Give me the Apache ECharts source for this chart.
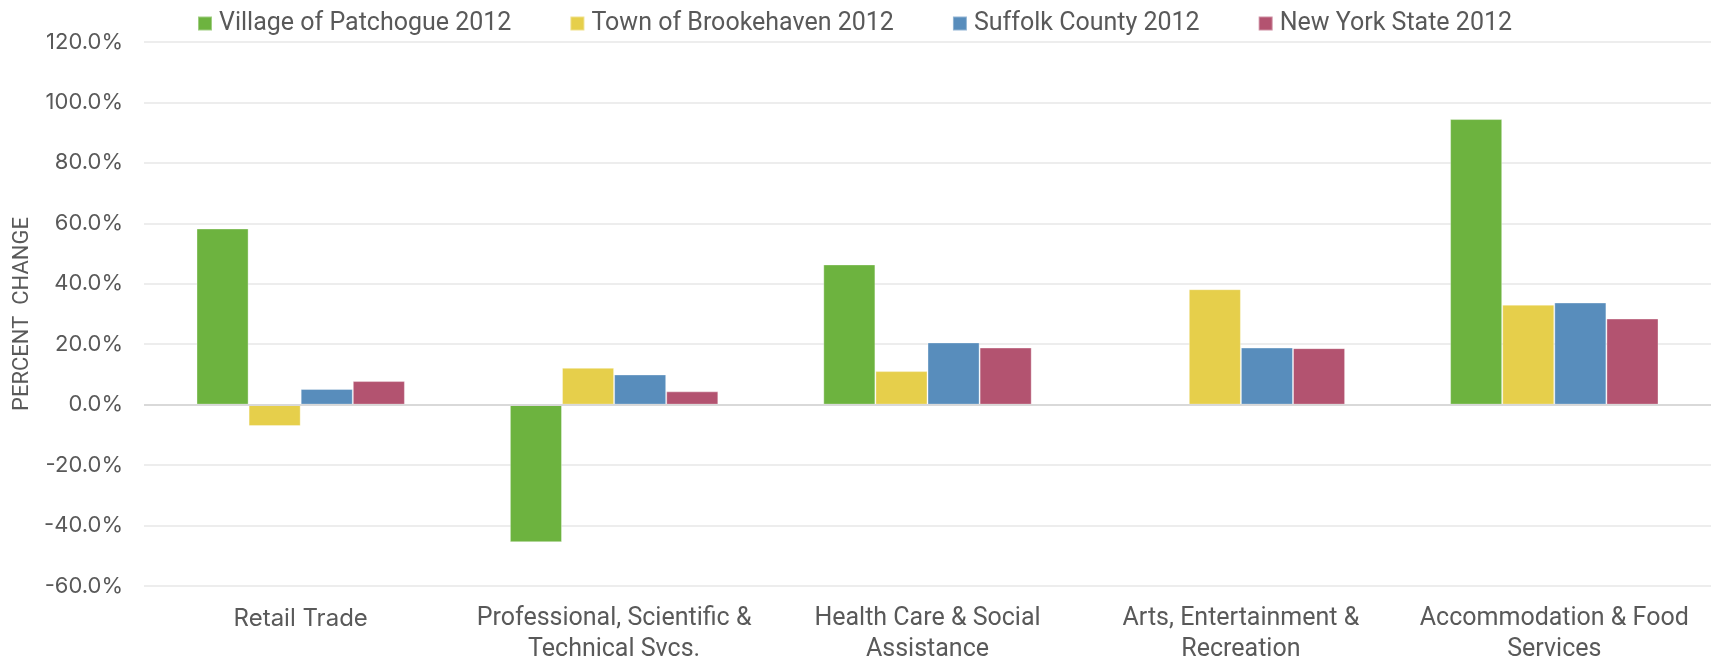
<!DOCTYPE html>
<html>
<head>
<meta charset="utf-8">
<script src="https://cdn.jsdelivr.net/npm/echarts@6/dist/echarts.min.js"></script>
<style>
  html, body { margin: 0; padding: 0; background: #fff; }
  #main { width: 1711px; height: 662px; }
</style>
</head>
<body>
<div id="main"></div>
<script>
// categories on the x axis
var categories = [
  'Retail Trade',
  'Professional, Scientific &\nTechnical Svcs.',
  'Health Care & Social\nAssistance',
  'Arts, Entertainment &\nRecreation',
  'Accommodation & Food\nServices'
];
var seriesNames = ['Village of Patchogue 2012', 'Town of Brookehaven 2012', 'Suffolk County 2012', 'New York State 2012'];
// percent change values
var patchogue = [58.3, -45.5, 46.4, null, 94.5];
var brookhaven = [-7.1, 12.2, 11.1, 38.2, 33.1];
var suffolk = [5.2, 10.0, 20.6, 18.9, 33.8];
var nyState = [7.8, 4.4, 18.9, 18.7, 28.5];
var yTicks = { min: -60, max: 120, step: 20 };

var colors = ['#6db33f', '#e6cf4b', '#588dbc', '#b35370'];
var textGray = '#595959';

var myChart = echarts.init(document.getElementById('main'));

// 把每组数据变成柱状系列
var makeBar = function (name, data, i) {
  var s = {
    name: name,
    type: 'bar',
    data: data,
    barGap: '0%',
    barCategoryGap: '33.5%',
    itemStyle: {
      color: colors[i],
      borderColor: 'rgba(255,255,255,0.35)',
      borderWidth: 1
    }
  };
  if (i === 0) {
    // zero line across the plot
    s.markLine = {
      silent: true,
      symbol: ['none', 'none'],
      label: { show: false },
      lineStyle: { color: '#d9d9d9', width: 2, type: 'solid' },
      data: [{ yAxis: 0 }]
    };
  }
  return s;
};

myChart.setOption({
  animation: false,
  color: colors,
  legend: {
    left: 192,
    top: 6,
    itemWidth: 14,
    itemHeight: 14,
    itemGap: 58,
    icon: 'rect',
    textStyle: { color: textGray, fontSize: 25, fontFamily: 'Roboto', padding: [0, 0, 0, 2] },
    data: seriesNames
  },
  grid: { left: 144, right: 0, top: 42, bottom: 74 },
  xAxis: {
    type: 'category',
    data: categories,
    axisLine: { show: false, onZero: false },
    axisTick: { show: false },
    axisLabel: {
      margin: 17,
      interval: 0,
      formatter: function (v) {
        if (v === 'Retail Trade') return '{wide|' + v + '}';
        return '{narrow|' + v.split('\n').join('}\n{narrow|') + '}';
      },
      rich: {
        wide: { fontFamily: 'Inter', fontSize: 24, color: textGray, lineHeight: 31 },
        narrow: { fontFamily: 'Roboto', fontSize: 25, color: textGray, lineHeight: 31 }
      }
    }
  },
  yAxis: {
    type: 'value',
    min: yTicks.min,
    max: yTicks.max,
    interval: yTicks.step,
    name: 'PERCENT  CHANGE',
    nameLocation: 'middle',
    nameGap: 110,
    nameTextStyle: { color: textGray, fontSize: 22, fontFamily: 'Roboto' },
    axisLine: { show: false },
    axisTick: { show: false },
    axisLabel: {
      margin: 21,
      color: textGray,
      fontSize: 22,
      fontFamily: 'Inter',
      formatter: function (v) { return v.toFixed(1) + '%'; }
    },
    splitLine: { lineStyle: { color: '#ededed', width: 2 } }
  },
  series: [
    makeBar(seriesNames[0], patchogue, 0),
    makeBar(seriesNames[1], brookhaven, 1),
    makeBar(seriesNames[2], suffolk, 2),
    makeBar(seriesNames[3], nyState, 3)
  ]
});
</script>
</body>
</html>
